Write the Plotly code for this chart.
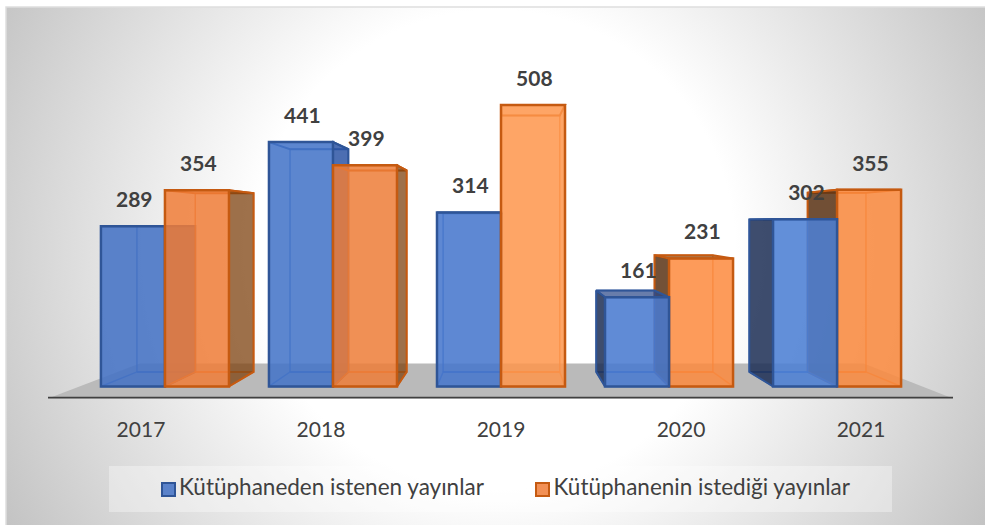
import plotly.graph_objects as go

years = ["2017", "2018", "2019", "2020", "2021"]
istenen = [289, 441, 314, 161, 302]
istedigi = [354, 399, 508, 231, 355]
series_names = ["Kütüphaneden istenen yayınlar", "Kütüphanenin istediği yayınlar"]

W, H = 985, 525
FONT = "Lato"
TEXT = "#404040"

# plot area in pixels, one x unit is one year group
PX_LEFT, PX_RIGHT, PX_TOP, PX_BOTTOM = 48, 953, 8, 398.5
X_MIN, X_MAX = -0.696, 4.69
Y_MIN, Y_MAX = -21.7, 683

BAR_W = 0.381
DEPTH = 0.0889        # how far the back of a box pulls to the vanishing point
VAN_X, VAN_Y = 2.03, 296
FLOOR_BACK = 41.5
FLOOR_DEPTH = 0.2
LABEL_GAP = 44

# the front faces catch more light towards the middle and right of the chart
FRONT = {
    0: ["rgba(68,114,196,0.87)", "rgba(68,116,200,0.87)", "rgba(70,118,204,0.87)",
        "rgba(72,122,208,0.87)", "rgba(76,128,213,0.87)"],
    1: ["rgba(240,125,55,0.85)", "rgba(237,125,55,0.85)", "rgba(254,149,75,0.85)",
        "rgba(253,137,61,0.85)", "rgba(252,137,61,0.85)"],
}
STYLE = {
    0: dict(edge="#2f5597", inner="rgba(47,95,180,0.75)",
            right="rgba(45,85,165,0.85)", left="rgba(28,46,85,0.85)", top="rgba(40,70,135,0.7)"),
    1: dict(edge="#c55a11", inner="rgba(225,110,35,0.75)",
            right="rgba(125,65,15,0.75)", left="rgba(90,50,20,0.85)", top="rgba(140,75,20,0.75)"),
}


def back(x, v):
    return x + DEPTH * (VAN_X - x), v + DEPTH * (VAN_Y - v)


def face(points, fill, line, zorder, width=2):
    xs = [p[0] for p in points] + [points[0][0]]
    ys = [p[1] for p in points] + [points[0][1]]
    return go.Scatter(x=xs, y=ys, mode="lines", fill="toself", fillcolor=fill,
                      line=dict(color=line, width=width), xaxis="x2", yaxis="y2",
                      hoverinfo="skip", showlegend=False, zorder=zorder)


def box_traces(i, s, v, z):
    st = STYLE[s]
    x0 = i - BAR_W if s == 0 else i
    x1 = x0 + BAR_W
    bl, bb = back(x0, 0)
    br, _ = back(x1, 0)
    _, bt = back(x0, v)
    none = "rgba(0,0,0,0)"
    out = [
        face([(bl, bb), (br, bb), (br, bt), (bl, bt)], none, st["inner"], z, 1.5),
        face([(x0, 0), (x1, 0), (br, bb), (bl, bb)], none, st["inner"], z, 1.5),
        face([(x0, v), (x1, v), (br, bt), (bl, bt)], st["top"] if bt > v else none, st["edge"], z),
    ]
    if br > x1:
        out.append(face([(x1, 0), (br, bb), (br, bt), (x1, v)], st["right"], st["edge"], z))
    if bl < x0:
        out.append(face([(x0, 0), (bl, bb), (bl, bt), (x0, v)], st["left"], st["edge"], z))
    out.append(go.Bar(x=[(x0 + x1) / 2], y=[v], width=BAR_W, name=series_names[s],
                      marker=dict(color=FRONT[s][i], line=dict(color=st["edge"], width=2.5)),
                      xaxis="x2", yaxis="y2", hoverinfo="skip", zorder=z + 1, showlegend=False))
    return out


fig = go.Figure()

# background gradient lives on its own pixel axes under the chart
CX, CY, R = 495, 250, 600
fig.add_trace(go.Scatter(
    x=[CX - R, CX + R, CX + R, CX - R, CX - R], y=[CY - R, CY - R, CY + R, CY + R, CY - R],
    mode="lines", fill="toself", line=dict(width=0), hoverinfo="skip", showlegend=False,
    fillgradient=dict(type="radial", colorscale=[[0, "#ffffff"], [0.4, "#ffffff"], [1, "#bcbcbc"]]),
))

# legend strip, swatches and names on the same pixel axes
fig.add_trace(go.Scatter(
    x=[109, 892, 892, 109, 109], y=[466, 466, 512, 512, 466],
    mode="lines", fill="toself", fillcolor="rgba(255,255,255,0.35)", line=dict(width=0),
    hoverinfo="skip", showlegend=False,
))
for s, (swatch_x, text_x) in enumerate([(168.5, 179), (542.5, 553.5)]):
    fig.add_trace(go.Scatter(
        x=[swatch_x], y=[489.5], mode="markers", name=series_names[s],
        marker=dict(symbol="square", size=13, color=FRONT[s][0],
                    line=dict(color=STYLE[s]["edge"], width=2)),
        hoverinfo="skip", showlegend=False,
    ))
    fig.add_trace(go.Scatter(
        x=[text_x], y=[489.5], mode="text", text=[series_names[s]], textposition="middle right",
        textfont=dict(family=FONT, size=22.5, color=TEXT),
        hoverinfo="skip", showlegend=False,
    ))

# floor
fig.add_trace(go.Scatter(
    x=[X_MIN, X_MAX,
       X_MAX + FLOOR_DEPTH * (VAN_X - X_MAX), X_MIN + FLOOR_DEPTH * (VAN_X - X_MIN), X_MIN],
    y=[Y_MIN, Y_MIN, FLOOR_BACK, FLOOR_BACK, Y_MIN],
    mode="lines", fill="toself", fillcolor="#bababa", line=dict(width=0),
    xaxis="x2", yaxis="y2", hoverinfo="skip", showlegend=False, zorder=0,
))

# left of the vanishing point the orange box is nearer, right of it the blue one
z = 1
for i in range(len(years)):
    order = [0, 1] if i < 3 else [1, 0]
    for s in order:
        v = istenen[i] if s == 0 else istedigi[i]
        for tr in box_traces(i, s, v, z):
            fig.add_trace(tr)
        z += 2

# value labels
positions = list(range(len(years)))
for s, vals in enumerate([istenen, istedigi]):
    xs = [p + (BAR_W / 2 if s == 1 else -BAR_W / 2) + 0.008 for p in positions]
    fig.add_trace(go.Scatter(
        x=xs, y=[v + LABEL_GAP for v in vals], mode="text",
        text=[str(v) for v in vals], textposition="middle center",
        textfont=dict(family=FONT, size=21, color=TEXT, weight="bold"),
        xaxis="x2", yaxis="y2", hoverinfo="skip", showlegend=False, zorder=z + 1,
    ))

fig.update_layout(
    width=W, height=H,
    margin=dict(l=0, r=0, t=0, b=0),
    paper_bgcolor="white", plot_bgcolor="rgba(0,0,0,0)",
    barmode="overlay",
    showlegend=False,
    font=dict(family=FONT, color=TEXT),
    xaxis=dict(domain=[6 / W, 1], range=[6, W], visible=False, fixedrange=True),
    yaxis=dict(domain=[0, 1 - 7 / H], range=[H, 7], visible=False, fixedrange=True),
    xaxis2=dict(
        domain=[PX_LEFT / W, PX_RIGHT / W], range=[X_MIN, X_MAX], anchor="y2",
        # the labels sit on the front edge of the floor, spread wider than the bars
        tickmode="array", tickvals=[p + (p - 2) * 0.0714 for p in positions], ticktext=years,
        tickfont=dict(family=FONT, size=21, color=TEXT),
        ticks="outside", ticklen=12, tickcolor="rgba(0,0,0,0)",
        showgrid=False, zeroline=False, showline=False,
        fixedrange=True,
    ),
    yaxis2=dict(
        domain=[1 - PX_BOTTOM / H, 1 - PX_TOP / H], range=[Y_MIN, Y_MAX], anchor="x2",
        visible=False, fixedrange=True,
    ),
    shapes=[
        dict(type="line", xref="x2", yref="y2", x0=X_MIN, x1=X_MAX, y0=Y_MIN, y1=Y_MIN,
             line=dict(color="#404040", width=3.5), layer="above"),
        dict(type="rect", xref="paper", yref="paper", x0=6 / W, x1=1.01,
             y0=-0.01, y1=1 - 7 / H, fillcolor="rgba(0,0,0,0)",
             line=dict(color="#dedede", width=1.5), layer="above"),
    ],
)

fig.write_html("out.html", config=dict(displayModeBar=False),
               post_script="document.body.style.margin='0'")
